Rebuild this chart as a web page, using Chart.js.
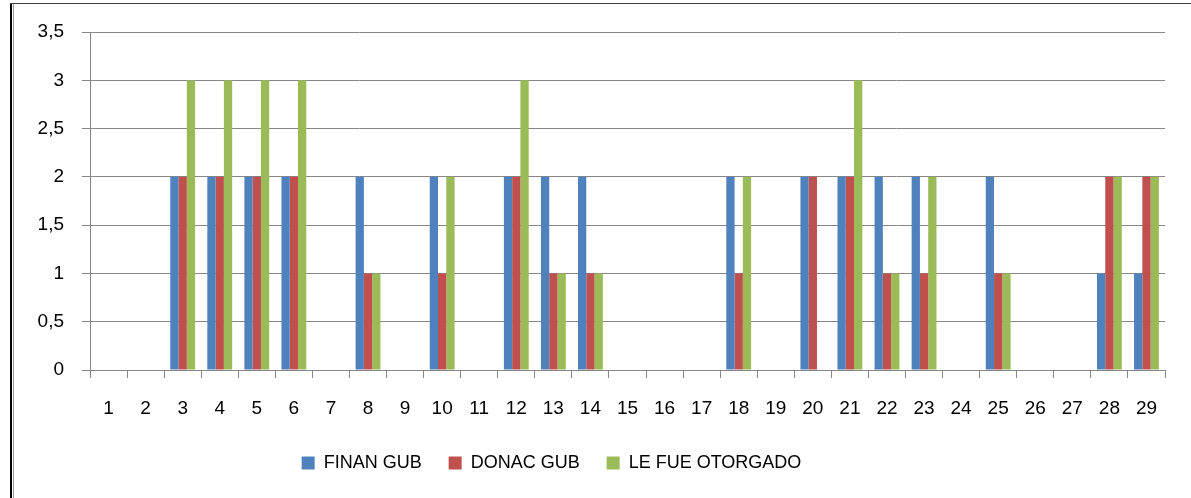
<!DOCTYPE html>
<html>
<head>
<meta charset="utf-8">
<script src="https://cdn.jsdelivr.net/npm/chart.js@4.4.0/dist/chart.umd.min.js"></script>
<style>
  html, body { margin: 0; padding: 0; background: #fff; }
  #wrap { position: relative; width: 1191px; height: 498px; overflow: hidden; }
  #frameLeft { position: absolute; left: 10px; top: 3px; width: 2px; height: 495px; background: #000; }
  #frameLeft2 { position: absolute; left: 13px; top: 3px; width: 1px; height: 495px; background: #9a9a9a; }
  #frameTop { position: absolute; left: 10px; top: 3px; width: 1181px; height: 1px; background: #404040; }
</style>
</head>
<body>
<div id="wrap">
  <canvas id="barChart" width="1191" height="498"></canvas>
  <div id="frameLeft"></div>
  <div id="frameLeft2"></div>
  <div id="frameTop"></div>
</div>
<script>
var categories = ['1','2','3','4','5','6','7','8','9','10','11','12','13','14','15',
                  '16','17','18','19','20','21','22','23','24','25','26','27','28','29'];
var finanGub = [0,0,2,2,2,2,0,2,0,2,0,2,2,2,0,0,0,2,0,2,2,2,2,0,2,0,0,1,1];
var donacGub = [0,0,2,2,2,2,0,1,0,1,0,2,1,1,0,0,0,1,0,2,2,1,1,0,1,0,0,2,2];
var leFueOtorgado = [0,0,3,3,3,3,0,1,0,2,0,3,1,1,0,0,0,2,0,0,3,1,2,0,1,0,0,2,2];

var gridColor = '#878787';
var font = { family: 'Liberation Sans', size: 18 };
var tickFont = { family: 'Liberation Sans', size: 19 };

// nudge the legend so it sits left of centre like the original
var legendShift = {
    id: 'legendShift',
    afterLayout: function (chart) {
        chart.legend.right = 1103;
    }
};

var myBarChart = new Chart(document.getElementById('barChart').getContext('2d'), {
    type: 'bar',
    data: {
        labels: categories,
        datasets: [
            {
                label: 'FINAN GUB',
                data: finanGub,
                backgroundColor: '#4F81BD',
                borderWidth: 0
            },
            {
                label: 'DONAC GUB',
                data: donacGub,
                backgroundColor: '#C0504D',
                borderWidth: 0
            },
            {
                label: 'LE FUE OTORGADO',
                data: leFueOtorgado,
                backgroundColor: '#9BBB59',
                borderWidth: 0
            }
        ]
    },
    options: {
        responsive: false,
        animation: false,
        layout: {
            padding: { top: 32, right: 26, left: 0, bottom: 16 }
        },
        datasets: {
            bar: { categoryPercentage: 0.67, barPercentage: 1 }
        },
        plugins: {
            legend: {
                position: 'bottom',
                labels: {
                    boxWidth: 13,
                    boxHeight: 13,
                    padding: 27,
                    color: '#000',
                    font: font
                }
            },
            tooltip: { enabled: false }
        },
        scales: {
            x: {
                grid: {
                    drawOnChartArea: false,
                    color: gridColor,
                    tickLength: 8
                },
                border: { color: gridColor },
                ticks: { color: '#000', font: tickFont, padding: 19, maxRotation: 0, autoSkip: false },
                afterFit: function (scale) { scale.height = 57; }
            },
            y: {
                min: 0,
                max: 3.5,
                grid: { color: gridColor, tickLength: 8 },
                border: { color: gridColor },
                ticks: {
                    stepSize: 0.5,
                    color: '#000',
                    font: tickFont,
                    padding: 18,
                    callback: function (v) { return String(v).replace('.', ','); }
                },
                afterFit: function (scale) { scale.width = 90; }
            }
        }
    },
    plugins: [legendShift]
});
</script>
</body>
</html>
